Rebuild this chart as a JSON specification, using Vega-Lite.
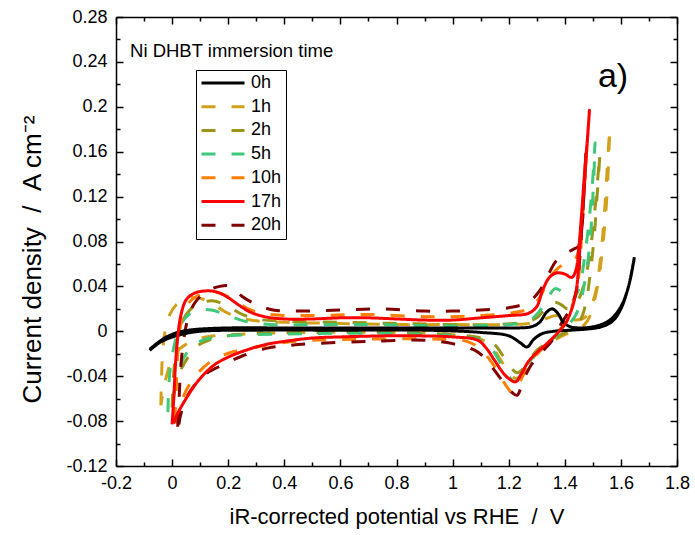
{
  "$schema": "https://vega.github.io/schema/vega-lite/v6.json",
  "width": 561,
  "height": 449,
  "autosize": "none",
  "padding": {"left": 116, "top": 17, "right": 18, "bottom": 69},
  "config": {"view": {"stroke": null}, "font": "Liberation Sans"},
  "datasets": {
    "cv": [
      {"t":"1h","i":0,"v":-0.04,"j":-0.066},{"t":"1h","i":1,"v":-0.038,"j":-0.045},{"t":"1h","i":2,"v":-0.034,"j":-0.02},{"t":"1h","i":3,"v":-0.025,"j":0.0},{"t":"1h","i":4,"v":-0.008,"j":0.015},{"t":"1h","i":5,"v":0.02,"j":0.025},{"t":"1h","i":6,"v":0.05,"j":0.029},{"t":"1h","i":7,"v":0.09,"j":0.03},{"t":"1h","i":8,"v":0.14,"j":0.025},{"t":"1h","i":9,"v":0.2,"j":0.016},{"t":"1h","i":10,"v":0.28,"j":0.01},{"t":"1h","i":11,"v":0.4,"j":0.008},{"t":"1h","i":12,"v":0.6,"j":0.007},{"t":"1h","i":13,"v":0.8,"j":0.006},{"t":"1h","i":14,"v":1.0,"j":0.006},{"t":"1h","i":15,"v":1.2,"j":0.006},{"t":"1h","i":16,"v":1.3,"j":0.008},{"t":"1h","i":17,"v":1.34,"j":0.012},{"t":"1h","i":18,"v":1.37,"j":0.014},{"t":"1h","i":19,"v":1.4,"j":0.012},{"t":"1h","i":20,"v":1.44,"j":0.01},{"t":"1h","i":21,"v":1.47,"j":0.012},{"t":"1h","i":22,"v":1.49,"j":0.02},{"t":"1h","i":23,"v":1.51,"j":0.035},{"t":"1h","i":24,"v":1.525,"j":0.06},{"t":"1h","i":25,"v":1.54,"j":0.1},{"t":"1h","i":26,"v":1.55,"j":0.14},{"t":"1h","i":27,"v":1.56,"j":0.18},
      {"t":"1h","i":28,"v":1.55,"j":0.12},{"t":"1h","i":29,"v":1.535,"j":0.075},{"t":"1h","i":30,"v":1.52,"j":0.045},{"t":"1h","i":31,"v":1.5,"j":0.022},{"t":"1h","i":32,"v":1.48,"j":0.009},{"t":"1h","i":33,"v":1.45,"j":0.002},{"t":"1h","i":34,"v":1.4,"j":-0.003},{"t":"1h","i":35,"v":1.35,"j":-0.01},{"t":"1h","i":36,"v":1.3,"j":-0.02},{"t":"1h","i":37,"v":1.27,"j":-0.03},{"t":"1h","i":38,"v":1.245,"j":-0.039},{"t":"1h","i":39,"v":1.225,"j":-0.042},{"t":"1h","i":40,"v":1.2,"j":-0.036},{"t":"1h","i":41,"v":1.17,"j":-0.025},{"t":"1h","i":42,"v":1.14,"j":-0.014},{"t":"1h","i":43,"v":1.1,"j":-0.007},{"t":"1h","i":44,"v":1.0,"j":-0.003},{"t":"1h","i":45,"v":0.8,"j":-0.001},{"t":"1h","i":46,"v":0.5,"j":-0.001},{"t":"1h","i":47,"v":0.3,"j":-0.002},{"t":"1h","i":48,"v":0.15,"j":-0.004},{"t":"1h","i":49,"v":0.08,"j":-0.008},{"t":"1h","i":50,"v":0.03,"j":-0.015},{"t":"1h","i":51,"v":0.0,"j":-0.025},{"t":"1h","i":52,"v":-0.02,"j":-0.04},{"t":"1h","i":53,"v":-0.035,"j":-0.058},{"t":"1h","i":54,"v":-0.04,"j":-0.066},

      {"t":"2h","i":0,"v":0.0,"j":-0.068},{"t":"2h","i":1,"v":0.005,"j":-0.04},{"t":"2h","i":2,"v":0.015,"j":-0.015},{"t":"2h","i":3,"v":0.03,"j":0.005},{"t":"2h","i":4,"v":0.06,"j":0.018},{"t":"2h","i":5,"v":0.1,"j":0.025},{"t":"2h","i":6,"v":0.15,"j":0.027},{"t":"2h","i":7,"v":0.2,"j":0.022},{"t":"2h","i":8,"v":0.25,"j":0.015},{"t":"2h","i":9,"v":0.3,"j":0.011},{"t":"2h","i":10,"v":0.4,"j":0.009},{"t":"2h","i":11,"v":0.6,"j":0.008},{"t":"2h","i":12,"v":0.8,"j":0.007},{"t":"2h","i":13,"v":1.0,"j":0.006},{"t":"2h","i":14,"v":1.15,"j":0.006},{"t":"2h","i":15,"v":1.25,"j":0.008},{"t":"2h","i":16,"v":1.3,"j":0.012},{"t":"2h","i":17,"v":1.33,"j":0.02},{"t":"2h","i":18,"v":1.36,"j":0.026},{"t":"2h","i":19,"v":1.385,"j":0.024},{"t":"2h","i":20,"v":1.41,"j":0.02},{"t":"2h","i":21,"v":1.44,"j":0.025},{"t":"2h","i":22,"v":1.46,"j":0.035},{"t":"2h","i":23,"v":1.48,"j":0.055},{"t":"2h","i":24,"v":1.495,"j":0.08},{"t":"2h","i":25,"v":1.51,"j":0.115},{"t":"2h","i":26,"v":1.525,"j":0.158},
      {"t":"2h","i":27,"v":1.515,"j":0.12},{"t":"2h","i":28,"v":1.505,"j":0.085},{"t":"2h","i":29,"v":1.49,"j":0.05},{"t":"2h","i":30,"v":1.475,"j":0.025},{"t":"2h","i":31,"v":1.455,"j":0.01},{"t":"2h","i":32,"v":1.42,"j":0.002},{"t":"2h","i":33,"v":1.38,"j":-0.004},{"t":"2h","i":34,"v":1.34,"j":-0.01},{"t":"2h","i":35,"v":1.3,"j":-0.017},{"t":"2h","i":36,"v":1.27,"j":-0.027},{"t":"2h","i":37,"v":1.245,"j":-0.035},{"t":"2h","i":38,"v":1.23,"j":-0.037},{"t":"2h","i":39,"v":1.21,"j":-0.033},{"t":"2h","i":40,"v":1.18,"j":-0.022},{"t":"2h","i":41,"v":1.15,"j":-0.012},{"t":"2h","i":42,"v":1.1,"j":-0.006},{"t":"2h","i":43,"v":1.0,"j":-0.003},{"t":"2h","i":44,"v":0.8,"j":-0.001},{"t":"2h","i":45,"v":0.5,"j":-0.001},{"t":"2h","i":46,"v":0.3,"j":-0.002},{"t":"2h","i":47,"v":0.2,"j":-0.004},{"t":"2h","i":48,"v":0.13,"j":-0.008},{"t":"2h","i":49,"v":0.09,"j":-0.013},{"t":"2h","i":50,"v":0.06,"j":-0.022},{"t":"2h","i":51,"v":0.03,"j":-0.035},{"t":"2h","i":52,"v":0.01,"j":-0.052},{"t":"2h","i":53,"v":0.0,"j":-0.066},

      {"t":"5h","i":0,"v":-0.015,"j":-0.072},{"t":"5h","i":1,"v":-0.012,"j":-0.05},{"t":"5h","i":2,"v":-0.005,"j":-0.03},{"t":"5h","i":3,"v":0.01,"j":-0.01},{"t":"5h","i":4,"v":0.03,"j":0.006},{"t":"5h","i":5,"v":0.06,"j":0.015},{"t":"5h","i":6,"v":0.1,"j":0.019},{"t":"5h","i":7,"v":0.14,"j":0.019},{"t":"5h","i":8,"v":0.2,"j":0.014},{"t":"5h","i":9,"v":0.26,"j":0.009},{"t":"5h","i":10,"v":0.35,"j":0.006},{"t":"5h","i":11,"v":0.5,"j":0.006},{"t":"5h","i":12,"v":0.7,"j":0.006},{"t":"5h","i":13,"v":0.9,"j":0.005},{"t":"5h","i":14,"v":1.1,"j":0.005},{"t":"5h","i":15,"v":1.2,"j":0.006},{"t":"5h","i":16,"v":1.27,"j":0.009},{"t":"5h","i":17,"v":1.31,"j":0.018},{"t":"5h","i":18,"v":1.34,"j":0.03},{"t":"5h","i":19,"v":1.365,"j":0.038},{"t":"5h","i":20,"v":1.385,"j":0.036},{"t":"5h","i":21,"v":1.405,"j":0.029},{"t":"5h","i":22,"v":1.425,"j":0.027},{"t":"5h","i":23,"v":1.44,"j":0.032},{"t":"5h","i":24,"v":1.455,"j":0.042},{"t":"5h","i":25,"v":1.47,"j":0.065},{"t":"5h","i":26,"v":1.485,"j":0.095},{"t":"5h","i":27,"v":1.498,"j":0.13},{"t":"5h","i":28,"v":1.508,"j":0.168},
      {"t":"5h","i":29,"v":1.5,"j":0.12},{"t":"5h","i":30,"v":1.49,"j":0.08},{"t":"5h","i":31,"v":1.475,"j":0.05},{"t":"5h","i":32,"v":1.46,"j":0.03},{"t":"5h","i":33,"v":1.44,"j":0.015},{"t":"5h","i":34,"v":1.41,"j":0.005},{"t":"5h","i":35,"v":1.37,"j":-0.004},{"t":"5h","i":36,"v":1.33,"j":-0.012},{"t":"5h","i":37,"v":1.29,"j":-0.022},{"t":"5h","i":38,"v":1.26,"j":-0.032},{"t":"5h","i":39,"v":1.235,"j":-0.042},{"t":"5h","i":40,"v":1.22,"j":-0.045},{"t":"5h","i":41,"v":1.2,"j":-0.04},{"t":"5h","i":42,"v":1.17,"j":-0.028},{"t":"5h","i":43,"v":1.14,"j":-0.016},{"t":"5h","i":44,"v":1.1,"j":-0.008},{"t":"5h","i":45,"v":1.0,"j":-0.004},{"t":"5h","i":46,"v":0.8,"j":-0.002},{"t":"5h","i":47,"v":0.5,"j":-0.002},{"t":"5h","i":48,"v":0.3,"j":-0.003},{"t":"5h","i":49,"v":0.2,"j":-0.004},{"t":"5h","i":50,"v":0.12,"j":-0.007},{"t":"5h","i":51,"v":0.08,"j":-0.012},{"t":"5h","i":52,"v":0.05,"j":-0.02},{"t":"5h","i":53,"v":0.03,"j":-0.03},{"t":"5h","i":54,"v":0.01,"j":-0.05},{"t":"5h","i":55,"v":-0.005,"j":-0.068},

      {"t":"10h","i":0,"v":0.01,"j":-0.08},{"t":"10h","i":1,"v":0.015,"j":-0.05},{"t":"10h","i":2,"v":0.02,"j":-0.02},{"t":"10h","i":3,"v":0.03,"j":0.005},{"t":"10h","i":4,"v":0.05,"j":0.022},{"t":"10h","i":5,"v":0.08,"j":0.03},{"t":"10h","i":6,"v":0.12,"j":0.034},{"t":"10h","i":7,"v":0.17,"j":0.034},{"t":"10h","i":8,"v":0.22,"j":0.028},{"t":"10h","i":9,"v":0.28,"j":0.019},{"t":"10h","i":10,"v":0.35,"j":0.015},{"t":"10h","i":11,"v":0.5,"j":0.014},{"t":"10h","i":12,"v":0.7,"j":0.015},{"t":"10h","i":13,"v":0.9,"j":0.013},{"t":"10h","i":14,"v":1.0,"j":0.013},{"t":"10h","i":15,"v":1.1,"j":0.014},{"t":"10h","i":16,"v":1.2,"j":0.016},{"t":"10h","i":17,"v":1.27,"j":0.02},{"t":"10h","i":18,"v":1.31,"j":0.03},{"t":"10h","i":19,"v":1.34,"j":0.045},{"t":"10h","i":20,"v":1.37,"j":0.055},{"t":"10h","i":21,"v":1.4,"j":0.06},{"t":"10h","i":22,"v":1.43,"j":0.062},{"t":"10h","i":23,"v":1.45,"j":0.072},{"t":"10h","i":24,"v":1.46,"j":0.095},{"t":"10h","i":25,"v":1.468,"j":0.125},{"t":"10h","i":26,"v":1.476,"j":0.155},
      {"t":"10h","i":27,"v":1.468,"j":0.12},{"t":"10h","i":28,"v":1.46,"j":0.085},{"t":"10h","i":29,"v":1.45,"j":0.05},{"t":"10h","i":30,"v":1.435,"j":0.03},{"t":"10h","i":31,"v":1.415,"j":0.015},{"t":"10h","i":32,"v":1.39,"j":0.004},{"t":"10h","i":33,"v":1.35,"j":-0.008},{"t":"10h","i":34,"v":1.31,"j":-0.018},{"t":"10h","i":35,"v":1.27,"j":-0.03},{"t":"10h","i":36,"v":1.24,"j":-0.045},{"t":"10h","i":37,"v":1.215,"j":-0.055},{"t":"10h","i":38,"v":1.195,"j":-0.05},{"t":"10h","i":39,"v":1.17,"j":-0.04},{"t":"10h","i":40,"v":1.14,"j":-0.028},{"t":"10h","i":41,"v":1.1,"j":-0.016},{"t":"10h","i":42,"v":1.05,"j":-0.009},{"t":"10h","i":43,"v":0.95,"j":-0.007},{"t":"10h","i":44,"v":0.7,"j":-0.007},{"t":"10h","i":45,"v":0.5,"j":-0.008},{"t":"10h","i":46,"v":0.4,"j":-0.01},{"t":"10h","i":47,"v":0.3,"j":-0.014},{"t":"10h","i":48,"v":0.22,"j":-0.018},{"t":"10h","i":49,"v":0.15,"j":-0.025},{"t":"10h","i":50,"v":0.1,"j":-0.035},{"t":"10h","i":51,"v":0.06,"j":-0.048},{"t":"10h","i":52,"v":0.03,"j":-0.065},{"t":"10h","i":53,"v":0.012,"j":-0.082},

      {"t":"20h","i":0,"v":0.02,"j":-0.085},{"t":"20h","i":1,"v":0.025,"j":-0.06},{"t":"20h","i":2,"v":0.03,"j":-0.035},{"t":"20h","i":3,"v":0.04,"j":-0.01},{"t":"20h","i":4,"v":0.055,"j":0.01},{"t":"20h","i":5,"v":0.08,"j":0.025},{"t":"20h","i":6,"v":0.12,"j":0.035},{"t":"20h","i":7,"v":0.17,"j":0.04},{"t":"20h","i":8,"v":0.21,"j":0.04},{"t":"20h","i":9,"v":0.25,"j":0.031},{"t":"20h","i":10,"v":0.3,"j":0.024},{"t":"20h","i":11,"v":0.36,"j":0.019},{"t":"20h","i":12,"v":0.45,"j":0.018},{"t":"20h","i":13,"v":0.6,"j":0.019},{"t":"20h","i":14,"v":0.75,"j":0.02},{"t":"20h","i":15,"v":0.9,"j":0.018},{"t":"20h","i":16,"v":1.0,"j":0.018},{"t":"20h","i":17,"v":1.1,"j":0.019},{"t":"20h","i":18,"v":1.2,"j":0.021},{"t":"20h","i":19,"v":1.27,"j":0.026},{"t":"20h","i":20,"v":1.31,"j":0.036},{"t":"20h","i":21,"v":1.34,"j":0.05},{"t":"20h","i":22,"v":1.37,"j":0.063},{"t":"20h","i":23,"v":1.4,"j":0.069},{"t":"20h","i":24,"v":1.43,"j":0.073},{"t":"20h","i":25,"v":1.45,"j":0.076},{"t":"20h","i":26,"v":1.46,"j":0.09},{"t":"20h","i":27,"v":1.468,"j":0.12},{"t":"20h","i":28,"v":1.475,"j":0.16},
      {"t":"20h","i":29,"v":1.47,"j":0.13},{"t":"20h","i":30,"v":1.46,"j":0.09},{"t":"20h","i":31,"v":1.45,"j":0.055},{"t":"20h","i":32,"v":1.44,"j":0.035},{"t":"20h","i":33,"v":1.42,"j":0.02},{"t":"20h","i":34,"v":1.39,"j":0.008},{"t":"20h","i":35,"v":1.355,"j":-0.008},{"t":"20h","i":36,"v":1.32,"j":-0.018},{"t":"20h","i":37,"v":1.28,"j":-0.03},{"t":"20h","i":38,"v":1.25,"j":-0.045},{"t":"20h","i":39,"v":1.23,"j":-0.057},{"t":"20h","i":40,"v":1.21,"j":-0.054},{"t":"20h","i":41,"v":1.18,"j":-0.045},{"t":"20h","i":42,"v":1.15,"j":-0.035},{"t":"20h","i":43,"v":1.12,"j":-0.025},{"t":"20h","i":44,"v":1.08,"j":-0.017},{"t":"20h","i":45,"v":1.0,"j":-0.011},{"t":"20h","i":46,"v":0.9,"j":-0.008},{"t":"20h","i":47,"v":0.7,"j":-0.009},{"t":"20h","i":48,"v":0.5,"j":-0.011},{"t":"20h","i":49,"v":0.4,"j":-0.013},{"t":"20h","i":50,"v":0.34,"j":-0.015},{"t":"20h","i":51,"v":0.25,"j":-0.022},{"t":"20h","i":52,"v":0.18,"j":-0.03},{"t":"20h","i":53,"v":0.12,"j":-0.038},{"t":"20h","i":54,"v":0.08,"j":-0.048},{"t":"20h","i":55,"v":0.05,"j":-0.06},{"t":"20h","i":56,"v":0.03,"j":-0.075},{"t":"20h","i":57,"v":0.022,"j":-0.087},

      {"t":"0h","i":0,"v":-0.08,"j":-0.016},{"t":"0h","i":1,"v":-0.05,"j":-0.01},{"t":"0h","i":2,"v":-0.02,"j":-0.005},{"t":"0h","i":3,"v":0.02,"j":-0.001},{"t":"0h","i":4,"v":0.06,"j":0.001},{"t":"0h","i":5,"v":0.1,"j":0.002},{"t":"0h","i":6,"v":0.2,"j":0.003},{"t":"0h","i":7,"v":0.4,"j":0.003},{"t":"0h","i":8,"v":0.6,"j":0.003},{"t":"0h","i":9,"v":0.8,"j":0.003},{"t":"0h","i":10,"v":1.0,"j":0.003},{"t":"0h","i":11,"v":1.2,"j":0.003},{"t":"0h","i":12,"v":1.28,"j":0.004},{"t":"0h","i":13,"v":1.31,"j":0.008},{"t":"0h","i":14,"v":1.335,"j":0.017},{"t":"0h","i":15,"v":1.355,"j":0.02},{"t":"0h","i":16,"v":1.375,"j":0.016},{"t":"0h","i":17,"v":1.395,"j":0.008},{"t":"0h","i":18,"v":1.42,"j":0.004},{"t":"0h","i":19,"v":1.46,"j":0.003},{"t":"0h","i":20,"v":1.5,"j":0.004},{"t":"0h","i":21,"v":1.54,"j":0.007},{"t":"0h","i":22,"v":1.57,"j":0.012},{"t":"0h","i":23,"v":1.6,"j":0.022},{"t":"0h","i":24,"v":1.62,"j":0.034},{"t":"0h","i":25,"v":1.635,"j":0.048},{"t":"0h","i":26,"v":1.648,"j":0.066},
      {"t":"0h","i":27,"v":1.64,"j":0.055},{"t":"0h","i":28,"v":1.625,"j":0.038},{"t":"0h","i":29,"v":1.6,"j":0.02},{"t":"0h","i":30,"v":1.57,"j":0.009},{"t":"0h","i":31,"v":1.53,"j":0.004},{"t":"0h","i":32,"v":1.48,"j":0.002},{"t":"0h","i":33,"v":1.42,"j":0.001},{"t":"0h","i":34,"v":1.36,"j":0.0},{"t":"0h","i":35,"v":1.32,"j":-0.002},{"t":"0h","i":36,"v":1.29,"j":-0.007},{"t":"0h","i":37,"v":1.265,"j":-0.014},{"t":"0h","i":38,"v":1.24,"j":-0.01},{"t":"0h","i":39,"v":1.2,"j":-0.004},{"t":"0h","i":40,"v":1.1,"j":-0.001},{"t":"0h","i":41,"v":0.9,"j":0.001},{"t":"0h","i":42,"v":0.6,"j":0.001},{"t":"0h","i":43,"v":0.3,"j":0.001},{"t":"0h","i":44,"v":0.1,"j":0.0},{"t":"0h","i":45,"v":0.03,"j":-0.003},{"t":"0h","i":46,"v":-0.02,"j":-0.007},{"t":"0h","i":47,"v":-0.05,"j":-0.011},{"t":"0h","i":48,"v":-0.08,"j":-0.017},

      {"t":"17h","i":0,"v":0.0,"j":-0.083},{"t":"17h","i":1,"v":0.006,"j":-0.06},{"t":"17h","i":2,"v":0.012,"j":-0.03},{"t":"17h","i":3,"v":0.02,"j":-0.005},{"t":"17h","i":4,"v":0.032,"j":0.015},{"t":"17h","i":5,"v":0.05,"j":0.028},{"t":"17h","i":6,"v":0.08,"j":0.034},{"t":"17h","i":7,"v":0.12,"j":0.036},{"t":"17h","i":8,"v":0.16,"j":0.035},{"t":"17h","i":9,"v":0.2,"j":0.03},{"t":"17h","i":10,"v":0.24,"j":0.023},{"t":"17h","i":11,"v":0.28,"j":0.017},{"t":"17h","i":12,"v":0.33,"j":0.013},{"t":"17h","i":13,"v":0.4,"j":0.011},{"t":"17h","i":14,"v":0.5,"j":0.011},{"t":"17h","i":15,"v":0.6,"j":0.012},{"t":"17h","i":16,"v":0.7,"j":0.012},{"t":"17h","i":17,"v":0.8,"j":0.011},{"t":"17h","i":18,"v":0.9,"j":0.01},{"t":"17h","i":19,"v":1.0,"j":0.01},{"t":"17h","i":20,"v":1.1,"j":0.012},{"t":"17h","i":21,"v":1.2,"j":0.014},{"t":"17h","i":22,"v":1.27,"j":0.016},{"t":"17h","i":23,"v":1.3,"j":0.022},{"t":"17h","i":24,"v":1.32,"j":0.036},{"t":"17h","i":25,"v":1.345,"j":0.048},{"t":"17h","i":26,"v":1.37,"j":0.052},{"t":"17h","i":27,"v":1.4,"j":0.051},{"t":"17h","i":28,"v":1.425,"j":0.048},{"t":"17h","i":29,"v":1.44,"j":0.055},{"t":"17h","i":30,"v":1.45,"j":0.075},{"t":"17h","i":31,"v":1.46,"j":0.105},{"t":"17h","i":32,"v":1.47,"j":0.14},{"t":"17h","i":33,"v":1.48,"j":0.17},{"t":"17h","i":34,"v":1.488,"j":0.197},
      {"t":"17h","i":35,"v":1.475,"j":0.15},{"t":"17h","i":36,"v":1.46,"j":0.1},{"t":"17h","i":37,"v":1.45,"j":0.06},{"t":"17h","i":38,"v":1.44,"j":0.035},{"t":"17h","i":39,"v":1.425,"j":0.02},{"t":"17h","i":40,"v":1.405,"j":0.008},{"t":"17h","i":41,"v":1.38,"j":0.0},{"t":"17h","i":42,"v":1.34,"j":-0.01},{"t":"17h","i":43,"v":1.3,"j":-0.019},{"t":"17h","i":44,"v":1.27,"j":-0.027},{"t":"17h","i":45,"v":1.245,"j":-0.038},{"t":"17h","i":46,"v":1.225,"j":-0.045},{"t":"17h","i":47,"v":1.205,"j":-0.043},{"t":"17h","i":48,"v":1.18,"j":-0.037},{"t":"17h","i":49,"v":1.15,"j":-0.026},{"t":"17h","i":50,"v":1.12,"j":-0.015},{"t":"17h","i":51,"v":1.09,"j":-0.008},{"t":"17h","i":52,"v":1.0,"j":-0.005},{"t":"17h","i":53,"v":0.8,"j":-0.004},{"t":"17h","i":54,"v":0.6,"j":-0.005},{"t":"17h","i":55,"v":0.5,"j":-0.006},{"t":"17h","i":56,"v":0.4,"j":-0.009},{"t":"17h","i":57,"v":0.33,"j":-0.012},{"t":"17h","i":58,"v":0.25,"j":-0.018},{"t":"17h","i":59,"v":0.2,"j":-0.023},{"t":"17h","i":60,"v":0.15,"j":-0.03},{"t":"17h","i":61,"v":0.1,"j":-0.042},{"t":"17h","i":62,"v":0.07,"j":-0.052},{"t":"17h","i":63,"v":0.04,"j":-0.064},{"t":"17h","i":64,"v":0.02,"j":-0.073},{"t":"17h","i":65,"v":0.005,"j":-0.082}
    ]
  },
  "layer": [
    {
      "data": {"name": "cv"},
      "mark": {"type": "line", "interpolate": "catmull-rom", "strokeWidth": 3},
      "encoding": {
        "x": {
          "field": "v", "type": "quantitative",
          "scale": {"domain": [-0.2, 1.8], "nice": false, "zero": false},
          "axis": {
            "orient": "bottom",
            "title": "iR-corrected potential vs RHE\u00a0\u00a0/\u00a0\u00a0V",
            "titleFont": "Liberation Sans", "titleFontSize": 22, "titleFontWeight": "normal", "titleColor": "black", "titlePadding": 11,
            "values": [-0.2,-0.1,0,0.1,0.2,0.3,0.4,0.5,0.6,0.7,0.8,0.9,1,1.1,1.2,1.3,1.4,1.5,1.6,1.7,1.8],
            "labelExpr": "round(datum.value*10) % 2 == 0 ? '' + round(datum.value*10)/10 : ''",
            "labelFont": "Liberation Sans", "labelFontSize": 18, "labelColor": "black", "labelPadding": 15, "labelFlush": false, "labelOverlap": false,
            "tickSize": {"condition": {"test": "round(datum.value*10) % 2 == 0", "value": -7}, "value": -4},
            "tickColor": "black", "tickWidth": 1.5,
            "domainColor": "black", "domainWidth": 1.5, "grid": false
          }
        },
        "y": {
          "field": "j", "type": "quantitative",
          "scale": {"domain": [-0.12, 0.28], "nice": false, "zero": false},
          "axis": {
            "orient": "left",
            "title": "Current density\u00a0\u00a0/\u00a0\u00a0A cm⁻²",
            "titleFont": "Liberation Sans", "titleFontSize": 26, "titleFontWeight": "normal", "titleColor": "black", "titlePadding": 20, "titleY": 242,
            "values": [-0.12,-0.1,-0.08,-0.06,-0.04,-0.02,0,0.02,0.04,0.06,0.08,0.1,0.12,0.14,0.16,0.18,0.2,0.22,0.24,0.26,0.28],
            "labelExpr": "round(datum.value*50) % 2 == 0 ? '' + round(datum.value*100)/100 : ''",
            "labelFont": "Liberation Sans", "labelFontSize": 18, "labelColor": "black", "labelPadding": 16, "labelFlush": false, "labelOverlap": false,
            "tickSize": {"condition": {"test": "round(datum.value*50) % 2 == 0", "value": -7}, "value": -4},
            "tickColor": "black", "tickWidth": 1.5,
            "domainColor": "black", "domainWidth": 1.5, "grid": false
          }
        },
        "color": {
          "field": "t", "type": "nominal",
          "scale": {
            "domain": ["0h","1h","2h","5h","10h","17h","20h"],
            "range": ["#000000","#D2A01A","#9A9417","#40C87A","#FF8000","#FF0000","#800000"]
          },
          "legend": {
            "orient": "none", "legendX": 80, "legendY": 53,
            "title": null,
            "symbolType": "stroke", "symbolSize": 1849, "symbolStrokeWidth": 3,
            "clipHeight": 18,
            "labelFont": "Liberation Sans", "labelFontSize": 18, "labelFontWeight": "normal", "labelColor": "black", "labelOffset": 5,
            "strokeColor": "black", "fillColor": "white", "padding": 4, "rowPadding": 5.7
          }
        },
        "strokeDash": {
          "field": "t", "type": "nominal",
          "scale": {
            "domain": ["0h","1h","2h","5h","10h","17h","20h"],
            "range": [[1,0],[14,16],[14,16],[14,16],[14,16],[1,0],[14,16]]
          },
          "legend": null
        },
        "order": {"field": "i", "type": "quantitative"}
      }
    },
    {
      "data": {"values": [{"x": -0.15, "y": 0.2444, "label": "Ni DHBT immersion time"}]},
      "mark": {"type": "text", "align": "left", "baseline": "alphabetic", "fontSize": 18.5, "font": "Liberation Sans", "color": "black"},
      "encoding": {
        "x": {
          "field": "x", "type": "quantitative",
          "axis": {
            "orient": "top", "title": null, "labels": false,
            "values": [-0.2,-0.1,0,0.1,0.2,0.3,0.4,0.5,0.6,0.7,0.8,0.9,1,1.1,1.2,1.3,1.4,1.5,1.6,1.7,1.8],
            "tickSize": {"condition": {"test": "round(datum.value*10) % 2 == 0", "value": -7}, "value": -4},
            "tickColor": "black", "tickWidth": 1.5, "domainColor": "black", "domainWidth": 1.5, "grid": false
          }
        },
        "y": {
          "field": "y", "type": "quantitative",
          "axis": {
            "orient": "right", "title": null, "labels": false,
            "values": [-0.12,-0.1,-0.08,-0.06,-0.04,-0.02,0,0.02,0.04,0.06,0.08,0.1,0.12,0.14,0.16,0.18,0.2,0.22,0.24,0.26,0.28],
            "tickSize": {"condition": {"test": "round(datum.value*50) % 2 == 0", "value": -7}, "value": -4},
            "tickColor": "black", "tickWidth": 1.5, "domainColor": "black", "domainWidth": 1.5, "grid": false
          }
        },
        "text": {"field": "label"}
      }
    },
    {
      "data": {"values": [{"x": 1.518, "y": 0.2176, "label": "a)"}]},
      "mark": {"type": "text", "align": "left", "baseline": "alphabetic", "fontSize": 34, "font": "Liberation Sans", "color": "black"},
      "encoding": {
        "x": {"field": "x", "type": "quantitative", "axis": null},
        "y": {"field": "y", "type": "quantitative", "axis": null},
        "text": {"field": "label"}
      }
    }
  ],
  "resolve": {"axis": {"x": "independent", "y": "independent"}}
}
